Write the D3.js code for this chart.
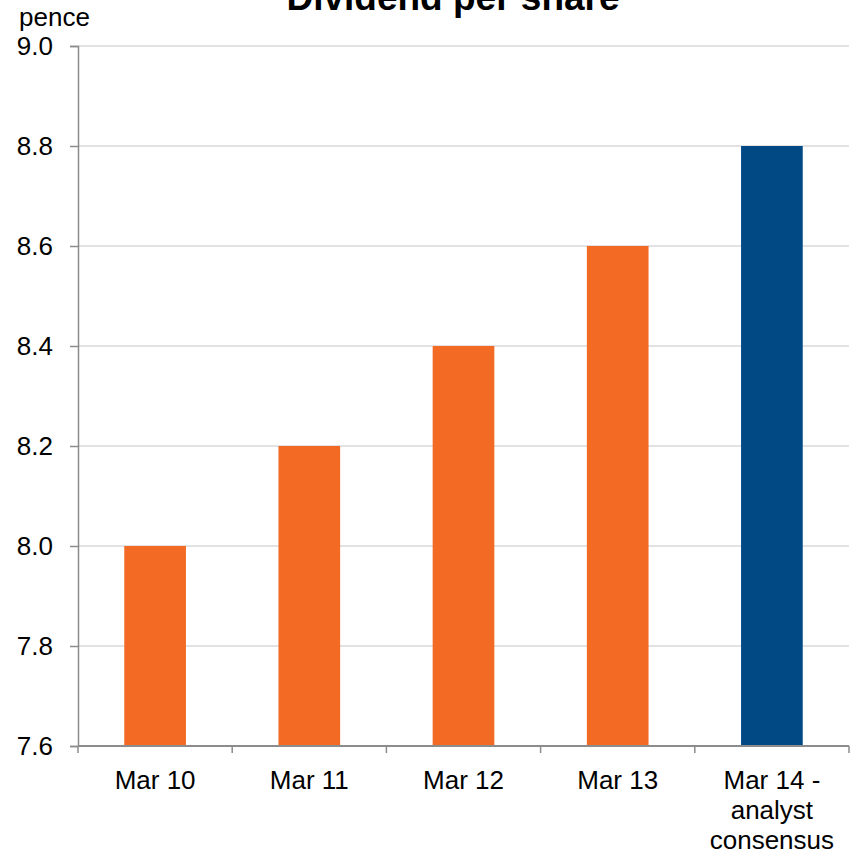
<!DOCTYPE html>
<html>
<head>
<meta charset="utf-8">
<script src="https://cdn.jsdelivr.net/npm/d3@7"></script>
<style>
  html, body { margin: 0; padding: 0; background: #fff; }
  svg { display: block; font-family: "Liberation Sans", Arial, sans-serif; }
</style>
</head>
<body>
<svg id="chart" width="851" height="855"></svg>
<script>
// Dividend per share, pence
const categories = ["Mar 10", "Mar 11", "Mar 12", "Mar 13", "Mar 14 - analyst consensus"];
const categoryLines = [["Mar 10"], ["Mar 11"], ["Mar 12"], ["Mar 13"], ["Mar 14 -", "analyst", "consensus"]];
const dividends = [8.0, 8.2, 8.4, 8.6, 8.8];
const isForecast = [false, false, false, false, true];
const yTicks = [7.6, 7.8, 8.0, 8.2, 8.4, 8.6, 8.8, 9.0];
const yDomain = [7.6, 9.0];

const svg = d3.select("#chart");
const plotLeft = 78, plotRight = 849, plotTop = 46, plotBottom = 746;

const x = d3.scaleBand().domain(categories).range([plotLeft, plotRight]).paddingInner(0.6).paddingOuter(0.3);
const y = d3.scaleLinear().domain(yDomain).range([plotBottom, plotTop]);

// horizontal gridlines
svg.append("g")
  .selectAll("line")
  .data(yTicks.filter(t => t > yDomain[0]))
  .join("line")
  .attr("x1", plotLeft).attr("x2", plotRight)
  .attr("y1", d => y(d)).attr("y2", d => y(d))
  .attr("stroke", "#d9d9d9").attr("stroke-width", 1.5);

// bars
svg.append("g")
  .selectAll("rect")
  .data(categories)
  .join("rect")
  .attr("x", d => x(d))
  .attr("width", x.bandwidth())
  .attr("y", (d, i) => y(dividends[i]))
  .attr("height", (d, i) => y(yDomain[0]) - y(dividends[i]))
  .attr("fill", (d, i) => isForecast[i] ? "#004985" : "#f26a24");

// y axis
const yAxis = svg.append("g")
  .attr("transform", `translate(${plotLeft},0)`)
  .call(d3.axisLeft(y).tickValues(yTicks).tickFormat(d3.format(".1f")).tickSize(8).tickPadding(17));
yAxis.select(".domain").attr("stroke", "#8c8c8c").attr("stroke-width", 1.5);
yAxis.selectAll(".tick line").attr("stroke", "#8c8c8c").attr("stroke-width", 1.5);
yAxis.selectAll(".tick text")
  .attr("fill", "#000").style("font-size", "26px").style("font-family", "'Liberation Sans', Arial, sans-serif");

// x axis: ticks sit on category boundaries
const boundaries = d3.range(categories.length + 1).map(i => plotLeft + i * (plotRight - plotLeft) / categories.length);
const xAxis = svg.append("g");
xAxis.append("line")
  .attr("x1", plotLeft).attr("x2", plotRight)
  .attr("y1", plotBottom).attr("y2", plotBottom)
  .attr("stroke", "#8c8c8c").attr("stroke-width", 2);
xAxis.selectAll("line.tick")
  .data(boundaries)
  .join("line")
  .attr("class", "tick")
  .attr("x1", d => d).attr("x2", d => d)
  .attr("y1", plotBottom).attr("y2", plotBottom + 7)
  .attr("stroke", "#8c8c8c").attr("stroke-width", 1.5);

const labels = xAxis.selectAll("text")
  .data(categories)
  .join("text")
  .attr("x", d => x(d) + x.bandwidth() / 2)
  .attr("y", 789)
  .attr("text-anchor", "middle")
  .attr("fill", "#000")
  .style("font-size", "26px");
labels.selectAll("tspan")
  .data((d, i) => categoryLines[i])
  .join("tspan")
  .attr("x", function () { return d3.select(this.parentNode).attr("x"); })
  .attr("dy", (d, i) => i === 0 ? 0 : 30)
  .text(d => d);

// unit label
svg.append("text")
  .attr("x", 19).attr("y", 26)
  .attr("fill", "#000")
  .style("font-size", "26px")
  .text("pence");

// title
svg.append("text")
  .attr("x", 453).attr("y", 10)
  .attr("text-anchor", "middle")
  .attr("fill", "#000")
  .style("font-size", "37px").style("font-weight", "bold")
  .text("Dividend per share");
</script>
</body>
</html>
